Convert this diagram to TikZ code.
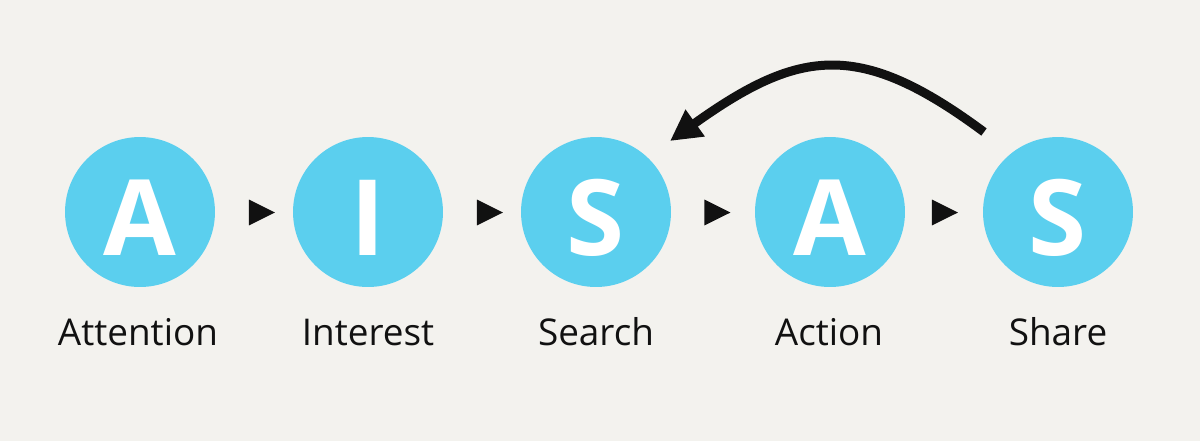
\documentclass[tikz,border=0pt]{standalone}
\usepackage{fontspec}
\setmainfont{Open Sans}
\usetikzlibrary{arrows.meta,shapes.geometric}
\definecolor{bg}{HTML}{F3F2EE}
\definecolor{sky}{HTML}{5BCFEE}
\definecolor{ink}{HTML}{111111}
\tikzset{
  stagecircle/.style={circle,fill=sky,draw=none,minimum size=3cm,inner sep=0pt},
  letter/.style={anchor=base,text=white,font=\fontsize{60pt}{60pt}\selectfont\bfseries,inner sep=0pt},
  stagelabel/.style={anchor=base,text=ink,font=\fontsize{21pt}{25pt}\selectfont,inner sep=0pt},
  steparrow/.style={isosceles triangle,isosceles triangle apex angle=53,fill=ink,draw=none,minimum height=0.52cm,inner sep=0pt},
  backarrow/.style={draw=ink,line width=0.18cm,line cap=butt,-{Triangle[length=0.62cm,width=0.62cm]}}
}
\begin{document}
\begin{tikzpicture}[x=0.02cm,y=-0.02cm]
\fill[bg] (0,0) rectangle (1200,441);
\useasboundingbox (0,0) rectangle (1200,441);
% circles
\node[stagecircle] (c1) at (140,212) {};
\node[stagecircle] (c2) at (368,212) {};
\node[stagecircle] (c3) at (596,212) {};
\node[stagecircle] (c4) at (830,212) {};
\node[stagecircle] (c5) at (1058,212) {};
% letters
\node[letter] (a1) at (140,255) {A};
\node[letter] (a2) at (368,255) {I};
\node[letter] (a3) at (596,255) {S};
\node[letter] (a4) at (830,255) {A};
\node[letter] (a5) at (1058,255) {S};
% labels
\node[stagelabel] (l1) at (138,345) {Attention};
\node[stagelabel] (l2) at (368,345) {Interest};
\node[stagelabel] (l3) at (596,345) {Search};
\node[stagelabel] (l4) at (829,345) {Action};
\node[stagelabel] (l5) at (1058,345) {Share};
% step arrows
\node[steparrow] (t1) at (257,212.5) {};
\node[steparrow] (t2) at (485,212.5) {};
\node[steparrow] (t3) at (712.5,212.5) {};
\node[steparrow] (t4) at (940,212.5) {};
% back arrow
\coordinate (bs) at (984,132);
\coordinate (be) at (670,141);
\draw[backarrow] (bs) .. controls (860,40) and (800,48) .. (be);
\end{tikzpicture}
\end{document}
